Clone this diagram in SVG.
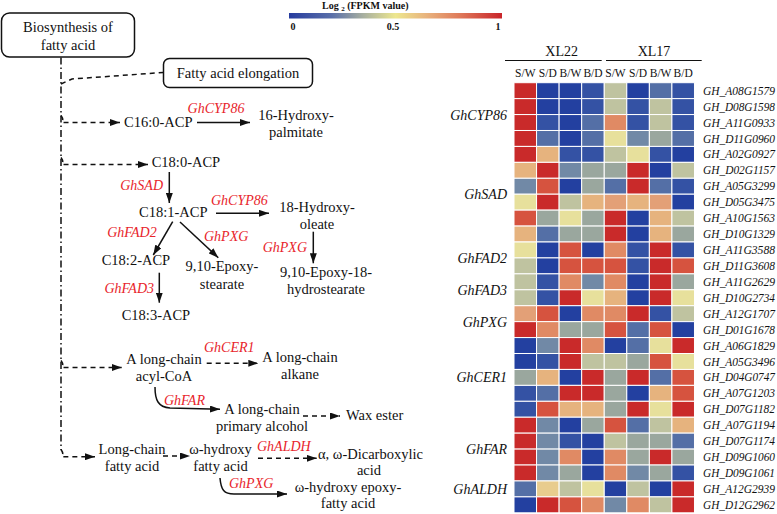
<svg xmlns="http://www.w3.org/2000/svg" width="777" height="514" viewBox="0 0 777 514">
<style>
text{font-family:"Liberation Serif","Times New Roman",serif;fill:#111}
.t{font-size:14.5px}
.m{text-anchor:middle}
.e{text-anchor:end}
.r{font-size:14px;font-style:italic;fill:#e8242b}
.g{font-size:14px;font-style:italic;text-anchor:end}
.gn{font-size:11.7px;font-style:italic}
.h{font-size:11.5px;text-anchor:middle}
.lg{font-size:10px;font-weight:bold}
.box{fill:#fff;stroke:#111;stroke-width:1.5}
.ln{fill:none;stroke:#111;stroke-width:1.5}
.sa{marker-end:url(#ah)}
.da{stroke-dasharray:5 4}
.dd{stroke-dasharray:7 3 1.5 3}
.hm rect{width:22.56px;height:15.93px;stroke:#fff;stroke-width:1}
.B0{fill:#2340a0}.B1{fill:#3452a4}.B2{fill:#546fa6}.B3{fill:#7189a6}
.G{fill:#9aa79e}.K{fill:#bfc3a0}.Y{fill:#e7e09c}.P{fill:#e6b37e}.Q{fill:#e3a077}
.S{fill:#e08a64}.O{fill:#d6533f}.R{fill:#c92a2a}.PY{fill:#e8cc8e}
</style>
<defs>
<marker id="ah" markerUnits="userSpaceOnUse" markerWidth="10" markerHeight="7" refX="10" refY="3.5" orient="auto"><path d="M0,0 L10,3.5 L0,7 z" fill="#111"/></marker>
<linearGradient id="cb" x1="0" y1="0" x2="1" y2="0">
<stop offset="0" stop-color="#263c9f"/><stop offset="0.2" stop-color="#5a6fa9"/><stop offset="0.35" stop-color="#a8b0a0"/><stop offset="0.5" stop-color="#ede78f"/><stop offset="0.65" stop-color="#e8b17c"/><stop offset="0.8" stop-color="#df7a5a"/><stop offset="1" stop-color="#c9242a"/>
</linearGradient>
</defs>

<g id="legend">
<text class="lg" x="322" y="9">Log <tspan font-size="7" dy="2">2</tspan><tspan dy="-2"> (FPKM value)</tspan></text>
<rect x="289" y="13" width="213" height="5.5" fill="url(#cb)"/>
<text class="lg" x="293" y="30" text-anchor="middle">0</text>
<text class="lg" x="393" y="30" text-anchor="middle">0.5</text>
<text class="lg" x="498" y="30" text-anchor="middle">1</text>
</g>

<g id="connectors">
<path class="ln dd" d="M61,57.5 L61,450"/>
<path class="ln da" d="M61,84 L72,79 L163,72.5"/>
<path class="ln da sa" d="M61,115.5 Q64,119.5 62,122.5 L120,122.5"/>
<path class="ln da sa" d="M61,157.5 Q64,161.5 62,164.5 L148,164.5"/>
<path class="ln da sa" d="M61,360.5 Q64,364.5 62,367.5 L121.7,367.5"/>
<path class="ln da sa" d="M61,449.5 Q64,453.5 62,456.7 L95,456.7"/>
<path class="ln sa" d="M197,122.5 L250,122.5"/>
<path class="ln sa" d="M169.3,172 L169.3,203"/>
<path class="ln sa" d="M216,213.3 L269,213.3"/>
<path class="ln sa" d="M313.3,231.7 L313.3,263.3"/>
<path class="ln sa" d="M172.7,221.7 L153.3,255"/>
<path class="ln sa" d="M180,222 L218.3,257.7"/>
<path class="ln sa" d="M159.3,272.7 L159.3,302.7"/>
<path class="ln da sa" d="M206.7,363.3 L258.3,363.3"/>
<path class="ln sa" d="M155,387 C155,400 158,407 170,408 L220,409.3"/>
<path class="ln da sa" d="M303,416 L340,416"/>
<path class="ln da sa" d="M163,456 L190,456"/>
<path class="ln da sa" d="M258,458.3 L316.7,458.3"/>
<path class="ln sa" d="M220,478 C221,490 224,494 234,494 L287,494"/>
</g>

<g id="n-biosynthesis"><rect class="box" x="1.5" y="13" width="133" height="44" rx="8"/><text class="t m" x="68" y="32">Biosynthesis of</text><text class="t m" x="68" y="50">fatty acid</text></g>
<g id="n-elongation"><rect class="box" x="163.5" y="58.5" width="149" height="29" rx="6"/><text class="t m" x="238" y="78">Fatty acid elongation</text></g>
<g id="n-c160"><text class="t" x="124" y="127">C16:0-ACP</text></g>
<g id="l-cyp86a"><text class="r m" x="216" y="113">GhCYP86</text></g>
<g id="n-16hp"><text class="t m" x="296" y="120">16-Hydroxy-</text><text class="t m" x="296" y="137">palmitate</text></g>
<g id="n-c180"><text class="t" x="151.7" y="167">C18:0-ACP</text></g>
<g id="l-sad"><text class="r e" x="163" y="190">GhSAD</text></g>
<g id="n-c181"><text class="t" x="139" y="217">C18:1-ACP</text></g>
<g id="l-cyp86b"><text class="r" x="211" y="205">GhCYP86</text></g>
<g id="n-18ho"><text class="t m" x="317" y="212">18-Hydroxy-</text><text class="t m" x="317" y="229">oleate</text></g>
<g id="l-pxga"><text class="r e" x="307" y="252">GhPXG</text></g>
<g id="n-epoxy18"><text class="t m" x="326" y="277">9,10-Epoxy-18-</text><text class="t m" x="326" y="294">hydrostearate</text></g>
<g id="l-fad2"><text class="r e" x="156.7" y="237">GhFAD2</text></g>
<g id="l-pxgb"><text class="r" x="204" y="241">GhPXG</text></g>
<g id="n-c182"><text class="t" x="101.7" y="265">C18:2-ACP</text></g>
<g id="n-epoxys"><text class="t m" x="222" y="271">9,10-Epoxy-</text><text class="t m" x="222" y="289">stearate</text></g>
<g id="l-fad3"><text class="r e" x="154" y="293">GhFAD3</text></g>
<g id="n-c183"><text class="t" x="121.7" y="320">C18:3-ACP</text></g>
<g id="n-acyl"><text class="t m" x="164" y="364">A long-chain</text><text class="t m" x="164" y="381">acyl-CoA</text></g>
<g id="l-cer1"><text class="r" x="204" y="352">GhCER1</text></g>
<g id="n-alkane"><text class="t m" x="300" y="362">A long-chain</text><text class="t m" x="300" y="379">alkane</text></g>
<g id="l-far"><text class="r" x="164" y="405">GhFAR</text></g>
<g id="n-alcohol"><text class="t m" x="262" y="414">A long-chain</text><text class="t m" x="262" y="431">primary alcohol</text></g>
<g id="n-wax"><text class="t" x="346" y="420">Wax ester</text></g>
<g id="n-lcfa"><text class="t m" x="132" y="454">Long-chain</text><text class="t m" x="132" y="471">fatty acid</text></g>
<g id="n-ohfa"><text class="t m" x="220.5" y="454">ω-hydroxy</text><text class="t m" x="220.5" y="471">fatty acid</text></g>
<g id="l-aldh"><text class="r" x="257" y="451">GhALDH</text></g>
<g id="n-dicarb"><text class="t" x="318" y="459">α, ω-Dicarboxylic</text><text class="t m" x="369" y="475">acid</text></g>
<g id="l-pxgc"><text class="r" x="229" y="488">GhPXG</text></g>
<g id="n-epoxyfa"><text class="t m" x="348" y="492">ω-hydroxy epoxy-</text><text class="t m" x="348" y="508">fatty acid</text></g>

<g id="heatmap-header">
<text x="561.7" y="56" font-size="14" text-anchor="middle">XL22</text>
<text x="654" y="56" font-size="14" text-anchor="middle">XL17</text>
<path d="M505,60.5 H601.7 M606,60.5 H701.7" stroke="#111" stroke-width="1"/>
<text class="h" x="525.3" y="77">S/W</text><text class="h" x="547.8" y="77">S/D</text><text class="h" x="570.4" y="77">B/W</text><text class="h" x="593" y="77">B/D</text>
<text class="h" x="615.5" y="77">S/W</text><text class="h" x="638" y="77">S/D</text><text class="h" x="660.6" y="77">B/W</text><text class="h" x="683.2" y="77">B/D</text>
</g>

<g id="group-labels">
<text class="g" x="507" y="119.6">GhCYP86</text>
<text class="g" x="507" y="199.2">GhSAD</text>
<text class="g" x="507" y="262.9">GhFAD2</text>
<text class="g" x="507" y="294.8">GhFAD3</text>
<text class="g" x="507" y="326.6">GhPXG</text>
<text class="g" x="507" y="382.4">GhCER1</text>
<text class="g" x="507" y="454.1">GhFAR</text>
<text class="g" x="507" y="494">GhALDH</text>
</g>

<g id="heatmap" class="hm" transform="translate(514,82.7)">
<g><rect class="R" x="0"/><rect class="B0" x="22.56"/><rect class="B0" x="45.12"/><rect class="B1" x="67.68"/><rect class="K" x="90.24"/><rect class="B0" x="112.8"/><rect class="B2" x="135.36"/><rect class="B1" x="157.92"/></g>
<g transform="translate(0,15.93)"><rect class="R" x="0"/><rect class="B0" x="22.56"/><rect class="B0" x="45.12"/><rect class="B1" x="67.68"/><rect class="K" x="90.24"/><rect class="B1" x="112.8"/><rect class="K" x="135.36"/><rect class="B1" x="157.92"/></g>
<g transform="translate(0,31.86)"><rect class="R" x="0"/><rect class="B1" x="22.56"/><rect class="B0" x="45.12"/><rect class="B2" x="67.68"/><rect class="S" x="90.24"/><rect class="B1" x="112.8"/><rect class="K" x="135.36"/><rect class="B1" x="157.92"/></g>
<g transform="translate(0,47.79)"><rect class="R" x="0"/><rect class="B2" x="22.56"/><rect class="B0" x="45.12"/><rect class="B2" x="67.68"/><rect class="Y" x="90.24"/><rect class="B3" x="112.8"/><rect class="G" x="135.36"/><rect class="B2" x="157.92"/></g>
<g transform="translate(0,63.72)"><rect class="R" x="0"/><rect class="P" x="22.56"/><rect class="B1" x="45.12"/><rect class="B1" x="67.68"/><rect class="K" x="90.24"/><rect class="Y" x="112.8"/><rect class="B1" x="135.36"/><rect class="B0" x="157.92"/></g>
<g transform="translate(0,79.65)"><rect class="P" x="0"/><rect class="R" x="22.56"/><rect class="B3" x="45.12"/><rect class="G" x="67.68"/><rect class="G" x="90.24"/><rect class="R" x="112.8"/><rect class="B0" x="135.36"/><rect class="K" x="157.92"/></g>
<g transform="translate(0,95.58)"><rect class="B3" x="0"/><rect class="O" x="22.56"/><rect class="B0" x="45.12"/><rect class="G" x="67.68"/><rect class="B2" x="90.24"/><rect class="R" x="112.8"/><rect class="B2" x="135.36"/><rect class="B1" x="157.92"/></g>
<g transform="translate(0,111.51)"><rect class="Y" x="0"/><rect class="R" x="22.56"/><rect class="K" x="45.12"/><rect class="P" x="67.68"/><rect class="Q" x="90.24"/><rect class="P" x="112.8"/><rect class="Q" x="135.36"/><rect class="B0" x="157.92"/></g>
<g transform="translate(0,127.44)"><rect class="O" x="0"/><rect class="G" x="22.56"/><rect class="Y" x="45.12"/><rect class="G" x="67.68"/><rect class="R" x="90.24"/><rect class="B0" x="112.8"/><rect class="P" x="135.36"/><rect class="K" x="157.92"/></g>
<g transform="translate(0,143.37)"><rect class="P" x="0"/><rect class="B2" x="22.56"/><rect class="G" x="45.12"/><rect class="G" x="67.68"/><rect class="R" x="90.24"/><rect class="B0" x="112.8"/><rect class="P" x="135.36"/><rect class="G" x="157.92"/></g>
<g transform="translate(0,159.3)"><rect class="Y" x="0"/><rect class="B0" x="22.56"/><rect class="O" x="45.12"/><rect class="B0" x="67.68"/><rect class="S" x="90.24"/><rect class="B1" x="112.8"/><rect class="R" x="135.36"/><rect class="B1" x="157.92"/></g>
<g transform="translate(0,175.23)"><rect class="K" x="0"/><rect class="B0" x="22.56"/><rect class="O" x="45.12"/><rect class="O" x="67.68"/><rect class="O" x="90.24"/><rect class="B1" x="112.8"/><rect class="R" x="135.36"/><rect class="O" x="157.92"/></g>
<g transform="translate(0,191.16)"><rect class="K" x="0"/><rect class="B1" x="22.56"/><rect class="S" x="45.12"/><rect class="B3" x="67.68"/><rect class="S" x="90.24"/><rect class="B0" x="112.8"/><rect class="R" x="135.36"/><rect class="G" x="157.92"/></g>
<g transform="translate(0,207.09)"><rect class="K" x="0"/><rect class="B1" x="22.56"/><rect class="R" x="45.12"/><rect class="Y" x="67.68"/><rect class="P" x="90.24"/><rect class="B0" x="112.8"/><rect class="R" x="135.36"/><rect class="Y" x="157.92"/></g>
<g transform="translate(0,223.02)"><rect class="Q" x="0"/><rect class="O" x="22.56"/><rect class="B0" x="45.12"/><rect class="S" x="67.68"/><rect class="S" x="90.24"/><rect class="R" x="112.8"/><rect class="B1" x="135.36"/><rect class="K" x="157.92"/></g>
<g transform="translate(0,238.95)"><rect class="R" x="0"/><rect class="S" x="22.56"/><rect class="G" x="45.12"/><rect class="G" x="67.68"/><rect class="O" x="90.24"/><rect class="B2" x="112.8"/><rect class="O" x="135.36"/><rect class="B0" x="157.92"/></g>
<g transform="translate(0,254.88)"><rect class="B0" x="0"/><rect class="B3" x="22.56"/><rect class="R" x="45.12"/><rect class="S" x="67.68"/><rect class="B0" x="90.24"/><rect class="B2" x="112.8"/><rect class="Y" x="135.36"/><rect class="R" x="157.92"/></g>
<g transform="translate(0,270.81)"><rect class="B0" x="0"/><rect class="B1" x="22.56"/><rect class="R" x="45.12"/><rect class="K" x="67.68"/><rect class="K" x="90.24"/><rect class="G" x="112.8"/><rect class="O" x="135.36"/><rect class="Y" x="157.92"/></g>
<g transform="translate(0,286.74)"><rect class="G" x="0"/><rect class="P" x="22.56"/><rect class="B0" x="45.12"/><rect class="R" x="67.68"/><rect class="G" x="90.24"/><rect class="R" x="112.8"/><rect class="B2" x="135.36"/><rect class="O" x="157.92"/></g>
<g transform="translate(0,302.67)"><rect class="B1" x="0"/><rect class="B2" x="22.56"/><rect class="R" x="45.12"/><rect class="R" x="67.68"/><rect class="G" x="90.24"/><rect class="B0" x="112.8"/><rect class="P" x="135.36"/><rect class="O" x="157.92"/></g>
<g transform="translate(0,318.6)"><rect class="B1" x="0"/><rect class="O" x="22.56"/><rect class="P" x="45.12"/><rect class="P" x="67.68"/><rect class="G" x="90.24"/><rect class="R" x="112.8"/><rect class="Y" x="135.36"/><rect class="R" x="157.92"/></g>
<g transform="translate(0,334.53)"><rect class="R" x="0"/><rect class="B3" x="22.56"/><rect class="B0" x="45.12"/><rect class="G" x="67.68"/><rect class="O" x="90.24"/><rect class="B2" x="112.8"/><rect class="K" x="135.36"/><rect class="P" x="157.92"/></g>
<g transform="translate(0,350.46)"><rect class="R" x="0"/><rect class="B3" x="22.56"/><rect class="B1" x="45.12"/><rect class="B0" x="67.68"/><rect class="K" x="90.24"/><rect class="G" x="112.8"/><rect class="G" x="135.36"/><rect class="B2" x="157.92"/></g>
<g transform="translate(0,366.39)"><rect class="R" x="0"/><rect class="B3" x="22.56"/><rect class="S" x="45.12"/><rect class="B0" x="67.68"/><rect class="S" x="90.24"/><rect class="G" x="112.8"/><rect class="R" x="135.36"/><rect class="G" x="157.92"/></g>
<g transform="translate(0,382.32)"><rect class="R" x="0"/><rect class="B3" x="22.56"/><rect class="G" x="45.12"/><rect class="B0" x="67.68"/><rect class="S" x="90.24"/><rect class="B3" x="112.8"/><rect class="G" x="135.36"/><rect class="B1" x="157.92"/></g>
<g transform="translate(0,398.25)"><rect class="B2" x="0"/><rect class="PY" x="22.56"/><rect class="K" x="45.12"/><rect class="Y" x="67.68"/><rect class="B0" x="90.24"/><rect class="K" x="112.8"/><rect class="B0" x="135.36"/><rect class="R" x="157.92"/></g>
<g transform="translate(0,414.18)"><rect class="B0" x="0"/><rect class="R" x="22.56"/><rect class="O" x="45.12"/><rect class="S" x="67.68"/><rect class="B3" x="90.24"/><rect class="S" x="112.8"/><rect class="K" x="135.36"/><rect class="R" x="157.92"/></g>
</g>

<g id="gene-labels">
<text class="gn" x="703" y="94.7" textLength="72" lengthAdjust="spacingAndGlyphs">GH_A08G1579</text>
<text class="gn" x="703" y="110.6" textLength="72" lengthAdjust="spacingAndGlyphs">GH_D08G1598</text>
<text class="gn" x="703" y="126.6" textLength="72" lengthAdjust="spacingAndGlyphs">GH_A11G0933</text>
<text class="gn" x="703" y="142.5" textLength="72" lengthAdjust="spacingAndGlyphs">GH_D11G0960</text>
<text class="gn" x="703" y="158.4" textLength="72" lengthAdjust="spacingAndGlyphs">GH_A02G0927</text>
<text class="gn" x="703" y="174.3" textLength="72" lengthAdjust="spacingAndGlyphs">GH_D02G1157</text>
<text class="gn" x="703" y="190.3" textLength="72" lengthAdjust="spacingAndGlyphs">GH_A05G3299</text>
<text class="gn" x="703" y="206.2" textLength="72" lengthAdjust="spacingAndGlyphs">GH_D05G3475</text>
<text class="gn" x="703" y="222.1" textLength="72" lengthAdjust="spacingAndGlyphs">GH_A10G1563</text>
<text class="gn" x="703" y="238.1" textLength="72" lengthAdjust="spacingAndGlyphs">GH_D10G1329</text>
<text class="gn" x="703" y="254" textLength="72" lengthAdjust="spacingAndGlyphs">GH_A11G3588</text>
<text class="gn" x="703" y="269.9" textLength="72" lengthAdjust="spacingAndGlyphs">GH_D11G3608</text>
<text class="gn" x="703" y="285.9" textLength="72" lengthAdjust="spacingAndGlyphs">GH_A11G2629</text>
<text class="gn" x="703" y="301.8" textLength="72" lengthAdjust="spacingAndGlyphs">GH_D10G2734</text>
<text class="gn" x="703" y="317.7" textLength="72" lengthAdjust="spacingAndGlyphs">GH_A12G1707</text>
<text class="gn" x="703" y="333.7" textLength="72" lengthAdjust="spacingAndGlyphs">GH_D01G1678</text>
<text class="gn" x="703" y="349.6" textLength="72" lengthAdjust="spacingAndGlyphs">GH_A06G1829</text>
<text class="gn" x="703" y="365.5" textLength="72" lengthAdjust="spacingAndGlyphs">GH_A05G3496</text>
<text class="gn" x="703" y="381.4" textLength="72" lengthAdjust="spacingAndGlyphs">GH_D04G0747</text>
<text class="gn" x="703" y="397.4" textLength="72" lengthAdjust="spacingAndGlyphs">GH_A07G1203</text>
<text class="gn" x="703" y="413.3" textLength="72" lengthAdjust="spacingAndGlyphs">GH_D07G1182</text>
<text class="gn" x="703" y="429.2" textLength="72" lengthAdjust="spacingAndGlyphs">GH_A07G1194</text>
<text class="gn" x="703" y="445.2" textLength="72" lengthAdjust="spacingAndGlyphs">GH_D07G1174</text>
<text class="gn" x="703" y="461.1" textLength="72" lengthAdjust="spacingAndGlyphs">GH_D09G1060</text>
<text class="gn" x="703" y="477" textLength="72" lengthAdjust="spacingAndGlyphs">GH_D09G1061</text>
<text class="gn" x="703" y="493" textLength="72" lengthAdjust="spacingAndGlyphs">GH_A12G2939</text>
<text class="gn" x="703" y="508.9" textLength="72" lengthAdjust="spacingAndGlyphs">GH_D12G2962</text>
</g>
</svg>
